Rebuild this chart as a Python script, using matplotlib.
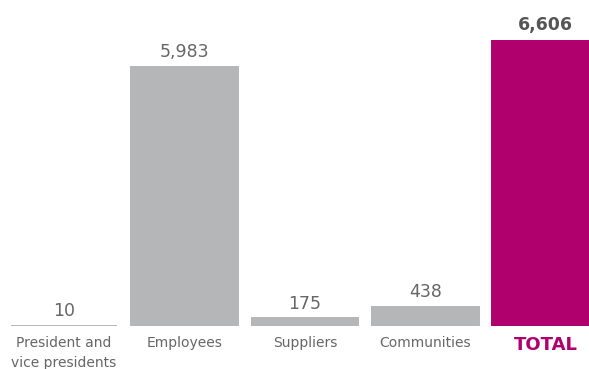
import matplotlib
matplotlib.use('Agg')
import matplotlib.pyplot as plt

categories = ['President and\nvice presidents', 'Employees', 'Suppliers', 'Communities', 'TOTAL']
values = [10, 5983, 175, 438, 6606]

gray = '#b5b6b8'
magenta = '#b0006e'
colors = [gray, gray, gray, gray, magenta]

plt.rcParams['font.family'] = ['DejaVu Sans']

fig = plt.figure(figsize=(5.89, 3.69), dpi=100)
ax = fig.add_axes([0, 0.1165, 1, 0.775])

x = list(range(len(values)))
ax.bar(x, values, width=0.885, color=colors, edgecolor=colors, linewidth=1.4)
ax.set_xlim(-0.5316, 4.360)
ax.set_ylim(0, 6606)
ax.axis('off')

for i, v in enumerate(values):
    last = i == len(values) - 1
    ax.annotate(f'{v:,}', (i, v), xytext=(0, 4), textcoords='offset points',
                ha='center', va='bottom', fontsize=12.5,
                color='#555555' if last else '#666666',
                fontweight='bold' if last else 'normal',
                annotation_clip=False)

for i, c in enumerate(categories):
    last = i == len(categories) - 1
    ax.annotate(c, (i, 0), xytext=(0, -7), textcoords='offset points',
                ha='center', va='top', fontsize=13 if last else 10,
                color=magenta if last else '#666666',
                fontweight='bold' if last else 'normal',
                linespacing=1.55, annotation_clip=False)

fig.savefig('out.png', dpi=100)
